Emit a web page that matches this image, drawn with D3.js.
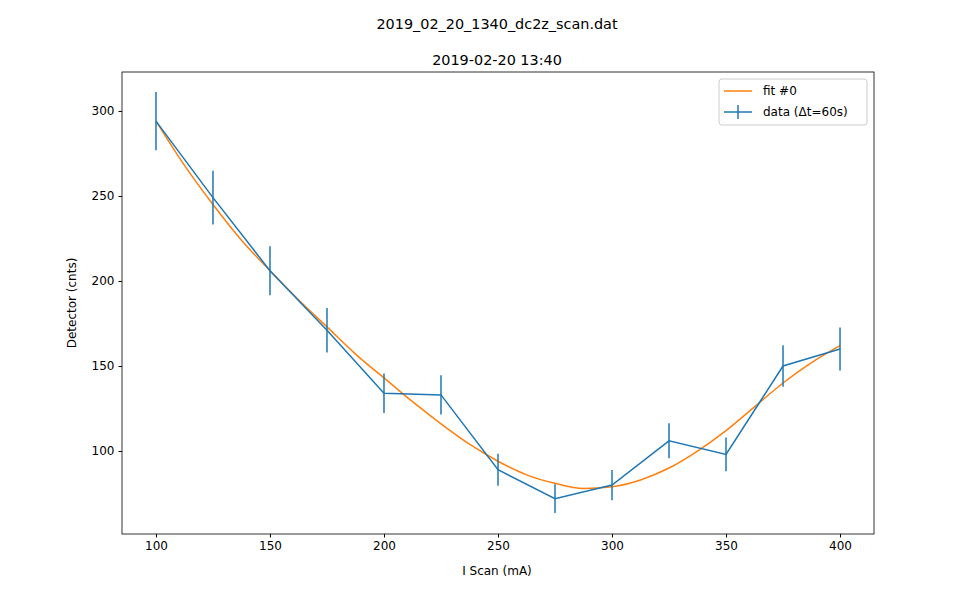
<!DOCTYPE html>
<html><head><meta charset="utf-8">
<script src="https://cdn.jsdelivr.net/npm/d3@7"></script>
<style>body{margin:0;background:#fff}text{font-family:"DejaVu Sans",sans-serif}</style>
</head><body>
<script>
const scanX = [100,125,150,175,200,225,250,275,300,325,350,375,400];
const counts = [294,249,206,171,134,133,89,72,80,106,98,150,160];
const errors = [17.1,15.8,14.4,13.1,11.6,11.5,9.4,8.5,8.9,10.3,9.9,12.2,12.6];
const fitX = [100,112.5,125,137.5,150,162.5,175,187.5,200,212.5,225,237.5,250,262.5,275,287.5,300,312.5,325,337.5,350,362.5,375,387.5,400];
const fitY = [294,268,245,224,206,189,173,157,143,129,116,104,94,86,81,78,79,83,90,100,112,126,140,152,162];
const xTicks = [100,150,200,250,300,350,400];
const yTicks = [100,150,200,250,300];

const W = 971, H = 600, L = 122, R = 874, T = 72, B = 534;
const svg = d3.select("body").append("svg").attr("width", W).attr("height", H);
const x = d3.scaleLinear().domain([85.1, 414.9]).range([L, R]);
const y = d3.scaleLinear().domain([51.2, 322.9]).range([B, T]);

svg.append("g").attr("transform", `translate(0,${B})`)
  .call(d3.axisBottom(x).tickValues(xTicks).tickSize(3.5).tickPadding(4))
  .call(g => g.select(".domain").remove());
svg.append("g").attr("transform", `translate(${L},0)`)
  .call(d3.axisLeft(y).tickValues(yTicks).tickSize(3.5).tickPadding(4))
  .call(g => g.select(".domain").remove());
svg.selectAll(".tick text").attr("font-size", 12).attr("fill", "#000").style("font-family", "DejaVu Sans");
svg.append("rect").attr("x", L).attr("y", T).attr("width", R - L).attr("height", B - T)
  .attr("fill", "none").attr("stroke", "#000").attr("stroke-width", 0.8);

const blue = "#1f77b4", orange = "#ff7f0e";
svg.append("path").datum(fitX.map((v, i) => [v, fitY[i]]))
  .attr("d", d3.line().x(d => x(d[0])).y(d => y(d[1])).curve(d3.curveMonotoneX))
  .attr("fill", "none").attr("stroke", orange).attr("stroke-width", 1.5);
svg.append("path").datum(scanX.map((v, i) => [v, counts[i]]))
  .attr("d", d3.line().x(d => x(d[0])).y(d => y(d[1])))
  .attr("fill", "none").attr("stroke", blue).attr("stroke-width", 1.5);
svg.selectAll(".err").data(scanX).join("line")
  .attr("x1", d => x(d)).attr("x2", d => x(d))
  .attr("y1", (d, i) => y(counts[i] - errors[i])).attr("y2", (d, i) => y(counts[i] + errors[i]))
  .attr("stroke", blue).attr("stroke-width", 1.5);

svg.append("text").attr("x", 497).attr("y", 29).attr("text-anchor", "middle").attr("font-size", 14.4).text("2019_02_20_1340_dc2z_scan.dat");
svg.append("text").attr("x", 497).attr("y", 65).attr("text-anchor", "middle").attr("font-size", 14.4).text("2019-02-20 13:40");
svg.append("text").attr("x", 497).attr("y", 575).attr("text-anchor", "middle").attr("font-size", 12).text("I Scan (mA)");
svg.append("text").attr("transform", "translate(76,303) rotate(-90)").attr("text-anchor", "middle").attr("font-size", 12).text("Detector (cnts)");

const lg = svg.append("g");
lg.append("rect").attr("x", 719).attr("y", 79).attr("width", 148).attr("height", 46).attr("rx", 3)
  .attr("fill", "#fff").attr("fill-opacity", 0.8).attr("stroke", "#ccc");
lg.append("line").attr("x1", 724).attr("x2", 752).attr("y1", 91).attr("y2", 91).attr("stroke", orange).attr("stroke-width", 1.5);
lg.append("text").attr("x", 763).attr("y", 95).attr("font-size", 12).text("fit #0");
lg.append("line").attr("x1", 724).attr("x2", 752).attr("y1", 112).attr("y2", 112).attr("stroke", blue).attr("stroke-width", 1.5);
lg.append("line").attr("x1", 738).attr("x2", 738).attr("y1", 105).attr("y2", 119).attr("stroke", blue).attr("stroke-width", 1.5);
lg.append("text").attr("x", 763).attr("y", 116).attr("font-size", 12).text("data (Δt=60s)");
</script>
</body></html>
